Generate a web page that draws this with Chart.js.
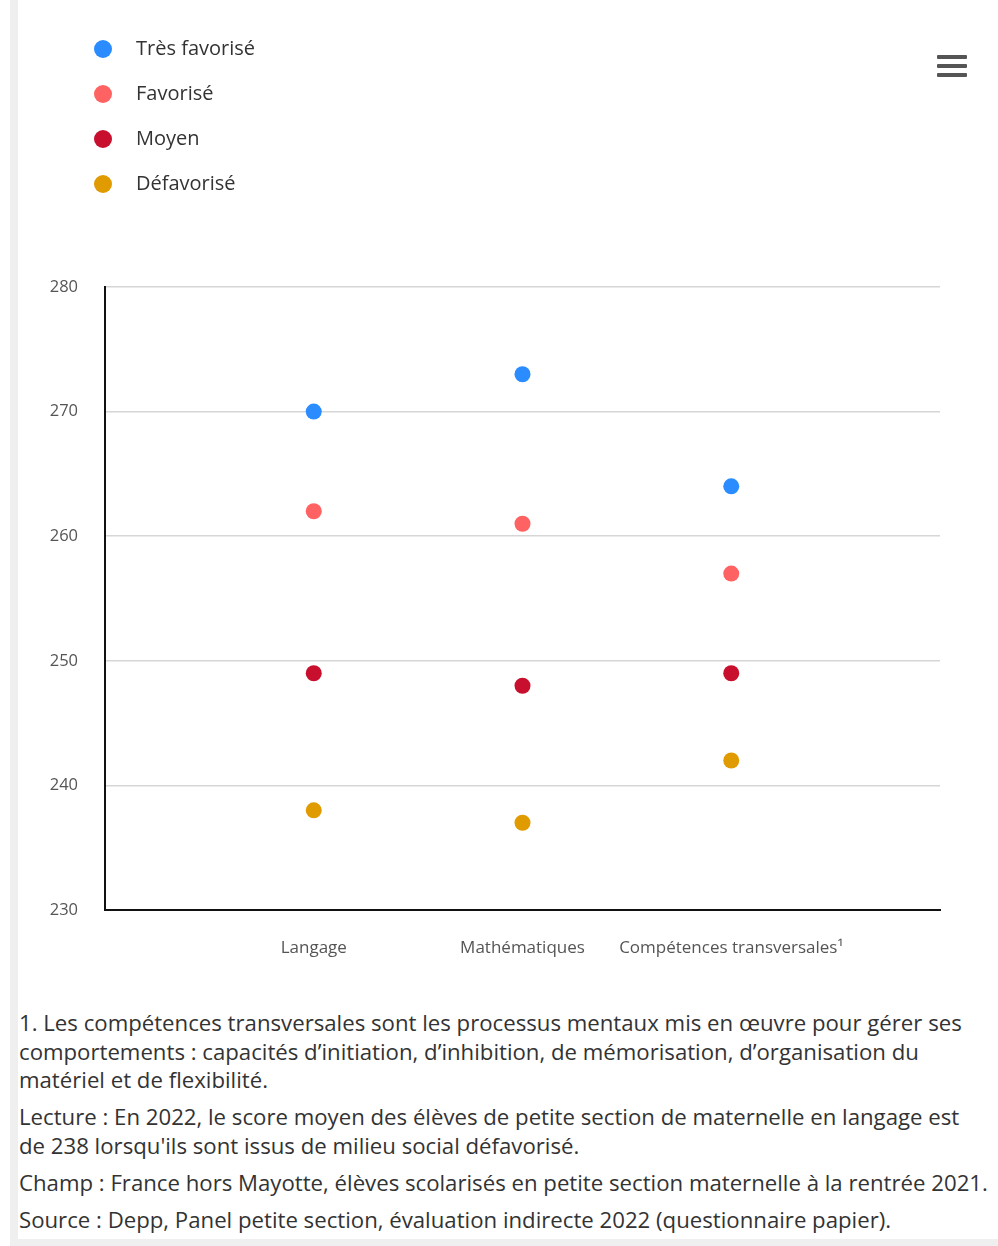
<!DOCTYPE html>
<html lang="fr">
<head>
<meta charset="utf-8">
<script src="https://cdn.jsdelivr.net/npm/chart.js@4/dist/chart.umd.min.js"></script>
<style>
  html, body { margin: 0; padding: 0; background: #fff; }
  body { width: 998px; height: 1246px; position: relative; overflow: hidden; font-family: "Open Sans", sans-serif; }
  #stripe { position: absolute; left: 10px; top: 0; width: 8px; height: 1240px; background: #efefef; }
  #bottom { position: absolute; left: 10px; top: 1239px; width: 988px; height: 7px; background: #efefef; }
  #chart_container { position: absolute; left: 0; top: 0; width: 998px; height: 980px; }
  #legend { position: absolute; left: 94px; top: 34px; }
  .item { height: 45px; display: flex; align-items: flex-start; font-size: 20px; color: #333; }
  .dot { width: 18px; height: 18px; border-radius: 50%; margin-top: 6px; margin-right: 24px; }
  #menu { position: absolute; left: 937px; top: 55px; width: 30px; }
  #menu div { height: 4px; background: #555; margin-bottom: 5px; border-radius: 1px; }
  #notes { position: absolute; left: 19px; top: 1009px; width: 970px; font-size: 22.2px; color: #333; line-height: 28.5px; }
  #notes p { margin: 0 0 8.5px 0; }
</style>
</head>
<body>
<div id="stripe"></div>
<div id="bottom"></div>
<div id="chart_container"><canvas id="myChart"></canvas></div>
<div id="legend"></div>
<div id="menu"><div></div><div></div><div></div></div>
<div id="notes">
  <p>1. Les compétences transversales sont les processus mentaux mis en œuvre pour gérer ses comportements : capacités d’initiation, d’inhibition, de mémorisation, d’organisation du matériel et de flexibilité.</p>
  <p>Lecture : En 2022, le score moyen des élèves de petite section de maternelle en langage est de 238 lorsqu'ils sont issus de milieu social défavorisé.</p>
  <p>Champ : France hors Mayotte, élèves scolarisés en petite section maternelle à la rentrée 2021.</p>
  <p>Source : Depp, Panel petite section, évaluation indirecte 2022 (questionnaire papier).</p>
</div>
<script>
var categories = ["Langage", "Mathématiques", "Compétences transversales¹"];
var seriesNames = ["Très favorisé", "Favorisé", "Moyen", "Défavorisé"];
var tresFavorise = [270, 273, 264];
var favorise = [262, 261, 257];
var moyen = [249, 248, 249];
var defavorise = [238, 237, 242];
var yTicks = [230, 240, 250, 260, 270, 280];
var colors = ["#2a8cff", "#ff6262", "#c8102e", "#e09b00"];

var allValues = [tresFavorise, favorise, moyen, defavorise];

// empty slots at both ends so the three categories sit at 1/4, 2/4, 3/4 of the width
var labels = [""].concat(categories).concat([""]);

var datasets = [];
for (var i = 0; i < seriesNames.length; i++) {
    datasets.push({
        label: seriesNames[i],
        data: [null].concat(allValues[i]).concat([null]),
        showLine: false,
        pointRadius: 8,
        pointHoverRadius: 8,
        pointBorderWidth: 0,
        backgroundColor: colors[i],
        borderColor: colors[i]
    });
}

var legendHtml = "";
for (var i = 0; i < seriesNames.length; i++) {
    legendHtml += '<div class="item"><span class="dot" style="background:' + colors[i] + '"></span>' + seriesNames[i] + '</div>';
}
document.getElementById("legend").innerHTML = legendHtml;

var ctx = document.getElementById("myChart").getContext("2d");
ctx.canvas.width = 998;
ctx.canvas.height = 980;

var myChart = new Chart(ctx, {
    type: "line",
    data: { labels: labels, datasets: datasets },
    options: {
        responsive: false,
        animation: false,
        events: [],
        layout: { padding: { top: 287, right: 58, left: 0, bottom: 0 } },
        plugins: { legend: { display: false }, tooltip: { enabled: false } },
        scales: {
            x: {
                offset: false,
                grid: { display: false, drawTicks: false },
                border: { color: "#111", width: 2 },
                ticks: { padding: 28, color: "#555", font: { family: "Open Sans", size: 17 }, maxRotation: 0, autoSkip: false },
                afterFit: function (scale) { scale.height = 70; }
            },
            y: {
                min: yTicks[0],
                max: yTicks[yTicks.length - 1],
                afterBuildTicks: function (scale) {
                    scale.ticks = yTicks.map(function (v) { return { value: v }; });
                },
                grid: { color: "#d6d6d6", lineWidth: 1.5, drawTicks: false },
                border: { color: "#111", width: 2 },
                ticks: { padding: 27, color: "#555", font: { family: "Open Sans", size: 16.5 } },
                afterFit: function (scale) { scale.width = 105; }
            }
        }
    }
});
</script>
</body>
</html>
